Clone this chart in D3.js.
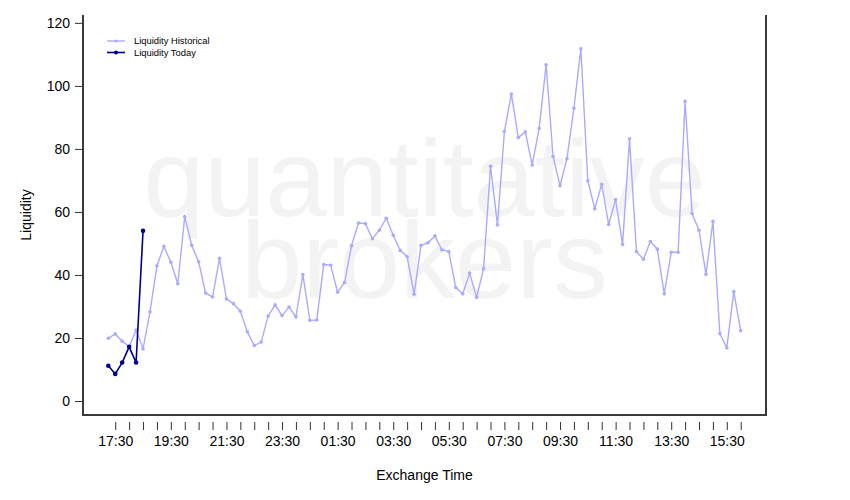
<!DOCTYPE html>
<html><head><meta charset="utf-8">
<script src="https://cdn.jsdelivr.net/npm/d3@7"></script>
<style>
body{margin:0;background:#fff}
svg{display:block;font-family:"Liberation Sans",Arial,Helvetica,sans-serif}
</style>
</head><body>
<svg id="chart" width="850" height="500"></svg>
<script>
// ---- data ----
const historicalValues = [
  19.9, 21.3, 19.0, 17.3, 22.5, 16.6, 28.3, 42.9, 49.1, 44.0,
  37.2, 58.5, 49.4, 44.2, 34.3, 33.0, 45.3, 32.4, 30.9, 28.5,
  22.0, 17.6, 18.7, 27.0, 30.5, 27.1, 29.8, 26.7, 40.1, 25.6,
  25.7, 43.3, 43.1, 34.5, 37.6, 49.3, 56.5, 56.3, 51.5, 54.2,
  58.0, 52.6, 47.8, 45.8, 33.9, 49.4, 50.2, 52.4, 48.0, 47.4,
  36.0, 34.0, 40.6, 32.9, 42.0, 74.5, 55.9, 85.6, 97.4, 83.6,
  85.4, 74.9, 86.5, 106.7, 77.6, 68.3, 76.9, 92.9, 111.8, 69.9,
  61.0, 68.8, 56.0, 63.9, 49.7, 83.2, 47.4, 45.0, 50.6, 48.2,
  34.0, 47.2, 47.2, 95.1, 59.5, 54.2, 40.2, 57.0, 21.4, 16.9,
  34.7, 22.3
];
const todayValues = [11.2, 8.6, 12.2, 17.2, 12.2, 54.0];
const yTickValues = [0, 20, 40, 60, 80, 100, 120];
const xTickLabels = ["17:30","19:30","21:30","23:30","01:30","03:30","05:30","07:30","09:30","11:30","13:30","15:30"];
const seriesNames = ["Liquidity Historical", "Liquidity Today"];
const startTime = new Date(2020, 0, 1, 17, 15);
const stepMinutes = 15;
const firstTick = new Date(2020, 0, 1, 17, 30);
const lastTick = new Date(2020, 0, 2, 16, 0);

// ---- layout ----
const W = 850, H = 500;
const L = 83, R = 766, T = 15, B = 415;
const colHist = "#aaaaff", colToday = "#00008b";

const svg = d3.select("#chart");

const histData = historicalValues.map((v, i) => ({t: d3.timeMinute.offset(startTime, i * stepMinutes), v}));
const todayData = todayValues.map((v, i) => ({t: d3.timeMinute.offset(startTime, i * stepMinutes), v}));

const t0 = histData[0].t, t1 = histData[histData.length - 1].t;
const span = t1 - t0;
const x = d3.scaleTime()
  .domain([new Date(+t0 - span * 0.04), new Date(+t1 + span * 0.04)])
  .range([L, R]);
const y = d3.scaleLinear().domain([-4.44, 122.5]).range([B, T]);

// watermark
const wm = svg.append("g").attr("fill", "#f3f3f3").attr("font-size", 110).attr("text-anchor", "middle");
wm.append("text").attr("x", (L + R) / 2).attr("y", 216).text("quantitative");
wm.append("text").attr("x", (L + R) / 2).attr("y", 298).text("brokers");

// box (left, bottom, right)
svg.append("path")
  .attr("d", `M${L},${T}V${B}H${R}V${T}`)
  .attr("fill", "none").attr("stroke", "#3a3a3a").attr("stroke-width", 2);

// y axis
const yAxis = svg.append("g").attr("transform", `translate(${L},0)`)
  .call(d3.axisLeft(y).tickValues(yTickValues).tickSize(8).tickPadding(5).tickSizeOuter(0));
yAxis.select(".domain").remove();
yAxis.selectAll("line").attr("stroke", "#333");
yAxis.selectAll("text").attr("font-size", 14).attr("fill", "#000").attr("font-family", "Liberation Sans, Arial, sans-serif");

// x axis
const fmt = d3.timeFormat("%H:%M");
const tickTimes = d3.timeMinute.every(30).range(firstTick, new Date(+lastTick + 1));
const xAxis = svg.append("g").attr("transform", `translate(0,422)`)
  .call(d3.axisBottom(x).tickValues(tickTimes).tickSize(8).tickPadding(6).tickSizeOuter(0)
    .tickFormat(d => xTickLabels.includes(fmt(d)) ? fmt(d) : ""));
xAxis.select(".domain").remove();
xAxis.selectAll("line").attr("stroke", "#333");
xAxis.selectAll("text").attr("font-size", 14).attr("fill", "#000").attr("font-family", "Liberation Sans, Arial, sans-serif");

// axis titles
svg.append("text").attr("x", (L + R) / 2).attr("y", 480).attr("text-anchor", "middle")
  .attr("font-size", 14).text("Exchange Time");
svg.append("text").attr("transform", "translate(31,215) rotate(-90)").attr("text-anchor", "middle")
  .attr("font-size", 14).text("Liquidity");

// lines
const line = d3.line().x(d => x(d.t)).y(d => y(d.v));
svg.append("path").datum(histData).attr("d", line)
  .attr("fill", "none").attr("stroke", colHist).attr("stroke-width", 1.4);
svg.append("g").selectAll("circle").data(histData).join("circle")
  .attr("cx", d => x(d.t)).attr("cy", d => y(d.v)).attr("r", 1.8).attr("fill", colHist);

svg.append("path").datum(todayData).attr("d", line)
  .attr("fill", "none").attr("stroke", colToday).attr("stroke-width", 1.6);
svg.append("g").selectAll("circle").data(todayData).join("circle")
  .attr("cx", d => x(d.t)).attr("cy", d => y(d.v)).attr("r", 2.3).attr("fill", colToday);

// legend
const leg = svg.append("g");
[colHist, colToday].forEach((c, i) => {
  const ly = 41 + i * 11.5;
  leg.append("line").attr("x1", 107).attr("x2", 125).attr("y1", ly).attr("y2", ly)
    .attr("stroke", c).attr("stroke-width", i ? 1.6 : 1.4);
  leg.append("circle").attr("cx", 116).attr("cy", ly).attr("r", i ? 2 : 1.6).attr("fill", c);
  leg.append("text").attr("x", 134).attr("y", ly).attr("dy", "0.35em")
    .attr("font-size", 9.4).attr("fill", "#000").text(seriesNames[i]);
});
</script>
</body></html>
